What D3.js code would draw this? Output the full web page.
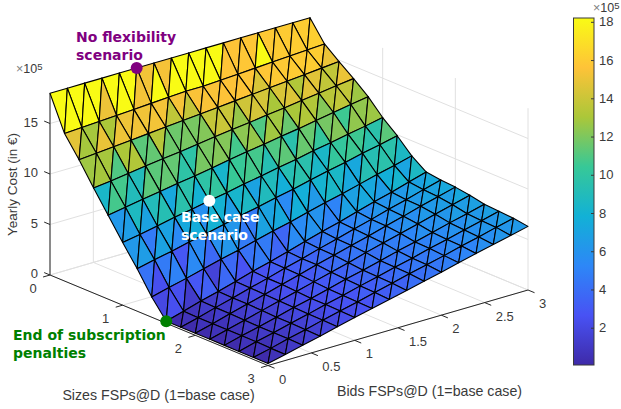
<!DOCTYPE html>
<html>
<head>
<meta charset="utf-8">
<script src="https://cdn.jsdelivr.net/npm/d3@7"></script>
<style>
  html, body { margin: 0; padding: 0; background: #fff; }
  text { font-family: "Liberation Sans", sans-serif; }
  .note { font-family: "DejaVu Sans", sans-serif; font-weight: bold; font-size: 14px; }
</style>
</head>
<body>
<div id="chart"></div>
<script>
// Data (yearly cost, in 1e5 euros)
const sizes = [0, 0.2, 0.4, 0.6, 0.8, 1, 1.2, 1.4, 1.6, 1.8, 2, 2.2, 2.4, 2.6, 2.8, 3];
const bids = [0, 0.2, 0.4, 0.6, 0.8, 1, 1.2, 1.4, 1.6, 1.8, 2, 2.2, 2.4, 2.6, 2.8, 3];
const cost = [
  [18, 18, 18, 18, 18, 18, 18, 18, 18, 18, 18, 18, 18, 18, 18, 18],
  [14.6, 14.7, 14.8, 14.9, 15, 15.1, 15.2, 15.3, 15.3, 15.4, 15.5, 15.6, 15.7, 15.8, 15.9, 16],
  [12.6, 12.75, 12.9, 13.05, 13.2, 13.35, 13.5, 13.65, 13.8, 13.95, 14.1, 14.25, 14.4, 14.55, 14.7, 14.85],
  [10.4, 10.6, 10.85, 11.1, 11.3, 11.5, 11.75, 12, 12.2, 12.4, 12.65, 12.85, 13.1, 13.3, 13.55, 13.76],
  [8.3, 8.6, 8.9, 9.15, 9.45, 9.7, 10, 10.3, 10.6, 10.85, 11.15, 11.4, 11.7, 12, 12.3, 12.57],
  [6.2, 6.5, 6.85, 7.2, 7.5, 7.85, 8.15, 8.5, 8.8, 9.15, 9.45, 9.8, 10.1, 10.45, 10.75, 11.1],
  [4.2, 4.6, 4.95, 5.35, 5.7, 6.1, 6.5, 6.85, 7.25, 7.6, 8, 8.4, 8.75, 9.15, 9.5, 9.9],
  [2, 2.45, 2.85, 3.3, 3.75, 4.15, 4.6, 5.05, 5.45, 5.9, 6.35, 6.75, 7.2, 7.65, 8.05, 8.5],
  [0.2, 0.7, 1.2, 1.65, 2.15, 2.65, 3.1, 3.6, 4.1, 4.6, 5.05, 5.55, 6.05, 6.5, 7, 7.5],
  [0.2, 0.65, 1.15, 1.6, 2.1, 2.55, 3.05, 3.5, 4, 4.45, 4.95, 5.4, 5.9, 6.35, 6.85, 7.3],
  [0.2, 0.65, 1.15, 1.6, 2.05, 2.55, 3, 3.5, 3.95, 4.4, 4.85, 5.35, 5.8, 6.3, 6.75, 7.2],
  [0.2, 0.65, 1.1, 1.55, 2, 2.45, 2.9, 3.35, 3.8, 4.3, 4.75, 5.2, 5.65, 6.1, 6.55, 7],
  [0.2, 0.65, 1.05, 1.5, 1.95, 2.35, 2.8, 3.25, 3.65, 4.1, 4.55, 4.95, 5.4, 5.85, 6.25, 6.7],
  [0.2, 0.65, 1.05, 1.5, 1.9, 2.35, 2.75, 3.2, 3.6, 4.05, 4.45, 4.9, 5.3, 5.75, 6.15, 6.6],
  [0.2, 0.6, 1.05, 1.45, 1.9, 2.3, 2.7, 3.15, 3.55, 4, 4.4, 4.8, 5.25, 5.65, 6.1, 6.5],
  [0.2, 0.6, 1, 1.4, 1.85, 2.25, 2.65, 3.05, 3.45, 3.85, 4.25, 4.7, 5.1, 5.5, 5.9, 6.3]
];

// Which row each triangle of a cell takes its flat colour from (U = upper, L = lower)
const facePick = [
  "UU UU UL UU UL LU LU UU UU UL LL LU LL LL LL",
  "UL LU LU UU UU UL UL UU UU UU UL UU UU UU UL",
  "UU UL UU LL UL LL LL UU UL UU UL UU LU UL LU",
  "LU UL LU UU UL LU UU UL UU LU UL UU UL UU UL",
  "LL UL UU LU UL UU LU UU UL UU LU UL UU LU UU",
  "UU LU UL UU LU UL UU LU UL UU UL LU UU UL LU",
  "UL UU LU UL UU UL LU UU LU UL UU UL LU UU UL",
  "UU UL UU LU UL UU UL LU UU UL LU UU UL UU LU"
];

const sizeTicks = [0, 1, 2, 3];
const bidTicks = [0, 0.5, 1, 1.5, 2, 2.5, 3];
const zTicks = [0, 5, 10, 15];
const barTicks = [2, 4, 6, 8, 10, 12, 14, 16, 18];
const parula = ["#3e2aa8", "#4852f4", "#2d87f7", "#12b1d6", "#37c897", "#abc739", "#fec338", "#f9fb15"];

const width = 621, height = 409;
const zTop = 18;

// Oblique projection: each data axis adds its own screen offset
const sizeX = d3.scaleLinear().domain([0, 3]).range([0, 218]);
const sizeY = d3.scaleLinear().domain([0, 3]).range([0, 90.5]);
const bidX = d3.scaleLinear().domain([0, 3]).range([0, 260]);
const bidY = d3.scaleLinear().domain([0, 3]).range([0, -75.5]);
const zY = d3.scaleLinear().domain([0, 15]).range([0, -151.5]);

const px = (s, b) => 50 + sizeX(s) + bidX(b);
const py = (s, b, z) => 275 + sizeY(s) + bidY(b) + zY(z);

const color = d3.scaleLinear()
  .domain(parula.map((c, i) => 0.05 + i * (18 - 0.05) / (parula.length - 1)))
  .range(parula);

const svg = d3.select("#chart").append("svg")
  .attr("width", width)
  .attr("height", height);

function seg(g, a, b) {
  g.append("line")
    .attr("x1", px(a[0], a[1])).attr("y1", py(a[0], a[1], a[2]))
    .attr("x2", px(b[0], b[1])).attr("y2", py(b[0], b[1], b[2]));
}

// Grid on the floor and the two back walls
const grid = svg.append("g").attr("stroke", "#e0e0e0").attr("fill", "none");
sizeTicks.forEach(s => {
  seg(grid, [s, 0, 0], [s, 3, 0]);
  seg(grid, [s, 3, 0], [s, 3, zTop]);
});
bidTicks.forEach(b => {
  seg(grid, [0, b, 0], [3, b, 0]);
  seg(grid, [0, b, 0], [0, b, zTop]);
});
zTicks.forEach(z => {
  seg(grid, [0, 0, z], [0, 3, z]);
  seg(grid, [0, 3, z], [3, 3, z]);
});

// Axis lines and ticks
const axes = svg.append("g").attr("stroke", "#262626").attr("fill", "none");
seg(axes, [0, 0, 0], [3, 0, 0]);
seg(axes, [3, 0, 0], [3, 3, 0]);
seg(axes, [0, 0, 0], [0, 0, zTop]);
sizeTicks.forEach(s => seg(axes, [s, 0, 0], [s, -0.08, 0]));
bidTicks.forEach(b => seg(axes, [3, b, 0], [3.09, b, 0]));
zTicks.forEach(z => seg(axes, [0, 0, z], [-0.08, 0, z]));

const labels = svg.append("g")
  .attr("fill", "#3a3a3a")
  .attr("font-size", 13);

labels.selectAll(".size-label").data(sizeTicks).enter().append("text")
  .attr("x", d => px(d, 0) - 17)
  .attr("y", d => py(d, 0, 0) + 17.5)
  .attr("text-anchor", "middle")
  .text(d => d);
labels.selectAll(".bid-label").data(bidTicks).enter().append("text")
  .attr("x", d => px(3, d) + 11)
  .attr("y", d => py(3, d, 0) + 18)
  .text(d => d);
labels.selectAll(".z-label").data(zTicks).enter().append("text")
  .attr("x", d => px(0, 0) - 12)
  .attr("y", d => py(0, 0, d) + 3)
  .attr("text-anchor", "end")
  .text(d => d);

function powerLabel(x, y) {
  const t = svg.append("text").attr("x", x).attr("y", y).attr("fill", "#3a3a3a").attr("font-size", 12.5);
  t.append("tspan").text("\u00d7").attr("fill", "#808080");
  t.append("tspan").text("10");
  t.append("tspan").text("5").attr("font-size", 9.5).attr("dy", -3);
}
powerLabel(16, 73);
powerLabel(593, 12);

// Surface, back to front
const surface = svg.append("g").attr("stroke", "#000").attr("stroke-width", 1.1).attr("stroke-linejoin", "round");
const vertex = (i, j) => [px(sizes[i], bids[j]), py(sizes[i], bids[j], cost[i][j])];
for (let i = 0; i < sizes.length - 1; i++) {
  const picks = facePick[i % facePick.length].split(" ");
  for (let j = bids.length - 2; j >= 0; j--) {
    const pick = picks[j];
    surface.append("path")
      .attr("d", d3.line()([vertex(i, j), vertex(i, j + 1), vertex(i + 1, j)]) + "Z")
      .attr("fill", color(pick[0] === "U" ? cost[i][j] : cost[i + 1][j]));
    surface.append("path")
      .attr("d", d3.line()([vertex(i, j + 1), vertex(i + 1, j), vertex(i + 1, j + 1)]) + "Z")
      .attr("fill", color(pick[1] === "U" ? cost[i][j + 1] : cost[i + 1][j + 1]));
  }
}

// Axis titles
svg.append("text")
  .attr("transform", "translate(17,184.5) rotate(-90)")
  .attr("text-anchor", "middle")
  .attr("font-size", 13.5)
  .attr("fill", "#3a3a3a")
  .text("Yearly Cost (in \u20ac)");
svg.append("text")
  .attr("x", 158.5).attr("y", 400)
  .attr("text-anchor", "middle")
  .attr("font-size", 14.2)
  .attr("fill", "#3a3a3a")
  .text("Sizes FSPs@D (1=base case)");
svg.append("text")
  .attr("x", 429.5).attr("y", 396)
  .attr("text-anchor", "middle")
  .attr("font-size", 14.2)
  .attr("fill", "#3a3a3a")
  .text("Bids FSPs@D (1=base case)");

// Highlighted scenarios
const points = [
  { s: 0, b: 1, z: 18, fill: "#800080", lines: ["No flexibility", "scenario"], x: 76, y: 42 },
  { s: 1, b: 1, z: 7.85, fill: "#ffffff", lines: ["Base case", "scenario"], x: 181, y: 222 },
  { s: 1.6, b: 0, z: 0.2, fill: "#008000", lines: ["End of subscription", "penalties"], x: 13, y: 340 }
];
points.forEach(p => {
  svg.append("circle")
    .attr("cx", px(p.s, p.b))
    .attr("cy", py(p.s, p.b, p.z))
    .attr("r", 6)
    .attr("fill", p.fill);
  p.lines.forEach((l, k) => {
    svg.append("text")
      .attr("class", "note")
      .attr("x", p.x)
      .attr("y", p.y + k * 18)
      .attr("fill", p.fill)
      .text(l);
  });
});

// Colorbar
const barY = d3.scaleLinear().domain([0.05, 18.2]).range([365, 18]);
const defs = svg.append("defs");
const grad = defs.append("linearGradient")
  .attr("id", "parula")
  .attr("x1", 0).attr("x2", 0).attr("y1", 1).attr("y2", 0);
parula.forEach((c, i) => {
  grad.append("stop").attr("offset", i / (parula.length - 1)).attr("stop-color", c);
});
svg.append("rect")
  .attr("x", 573.5).attr("y", barY.range()[1])
  .attr("width", 20.5).attr("height", barY.range()[0] - barY.range()[1])
  .attr("fill", "url(#parula)")
  .attr("stroke", "#3a3a3a");
const barAxis = svg.append("g")
  .attr("transform", "translate(594,0)")
  .call(d3.axisRight(barY).tickValues(barTicks).tickSize(-3).tickPadding(5));
barAxis.select(".domain").remove();
barAxis.selectAll("text").attr("font-size", 13).attr("font-family", "Liberation Sans").attr("fill", "#3a3a3a");
barAxis.selectAll("line").attr("stroke", "#3a3a3a");
</script>
</body>
</html>
